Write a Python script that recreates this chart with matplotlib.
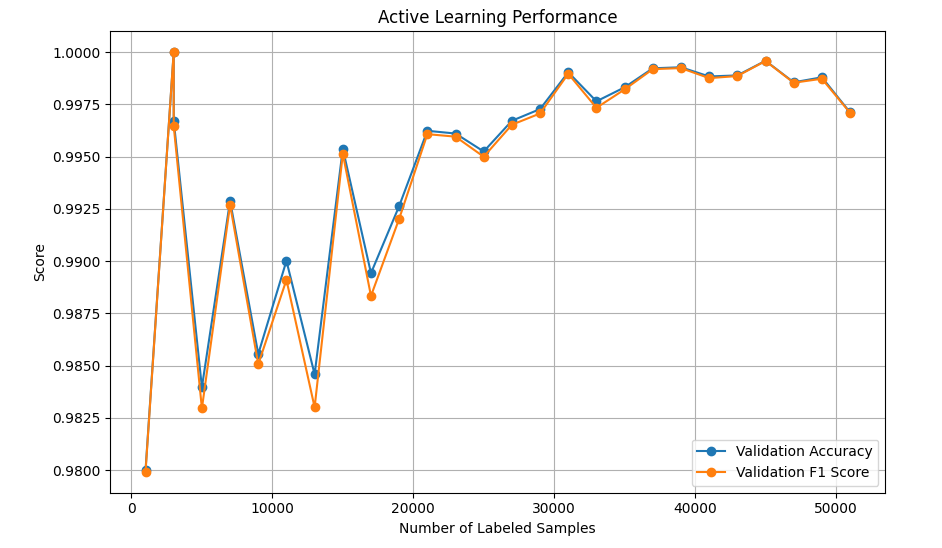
import matplotlib
matplotlib.use('Agg')
import matplotlib.pyplot as plt

# Number of labeled samples per round (3000 appears twice in the source run)
samples = [1000, 3000, 3000, 5000, 7000, 9000, 11000, 13000, 15000, 17000, 19000,
           21000, 23000, 25000, 27000, 29000, 31000, 33000, 35000, 37000, 39000,
           41000, 43000, 45000, 47000, 49000, 51000]

val_accuracy = [0.9800, 1.0000, 0.99671, 0.98396, 0.99288, 0.98555, 0.99001, 0.98458,
                0.99537, 0.98942, 0.99263, 0.99623, 0.99610, 0.99524, 0.99671,
                0.99727, 0.99903, 0.99764, 0.99831, 0.99922, 0.99927, 0.99883,
                0.99888, 0.99958, 0.99855, 0.99879, 0.99711]

val_f1 = [0.97992, 1.0000, 0.99646, 0.98295, 0.99269, 0.98506, 0.98910, 0.98300,
          0.99513, 0.98833, 0.99202, 0.99607, 0.99595, 0.99499, 0.99652,
          0.99706, 0.99896, 0.99733, 0.99821, 0.99918, 0.99923, 0.99875,
          0.99885, 0.99957, 0.99853, 0.99872, 0.99709]

fig = plt.figure(figsize=(9.42, 5.48), dpi=100)
ax = fig.add_subplot(111)
fig.subplots_adjust(left=0.1171, right=0.9398, top=0.9434, bottom=0.1009)

ax.plot(samples, val_accuracy, marker='o', label='Validation Accuracy')
ax.plot(samples, val_f1, marker='o', label='Validation F1 Score')

ax.set_xlabel('Number of Labeled Samples')
ax.set_ylabel('Score')
ax.set_title('Active Learning Performance')
ax.legend(loc='lower right')
ax.grid(True)

fig.savefig('out.png', dpi=100)
